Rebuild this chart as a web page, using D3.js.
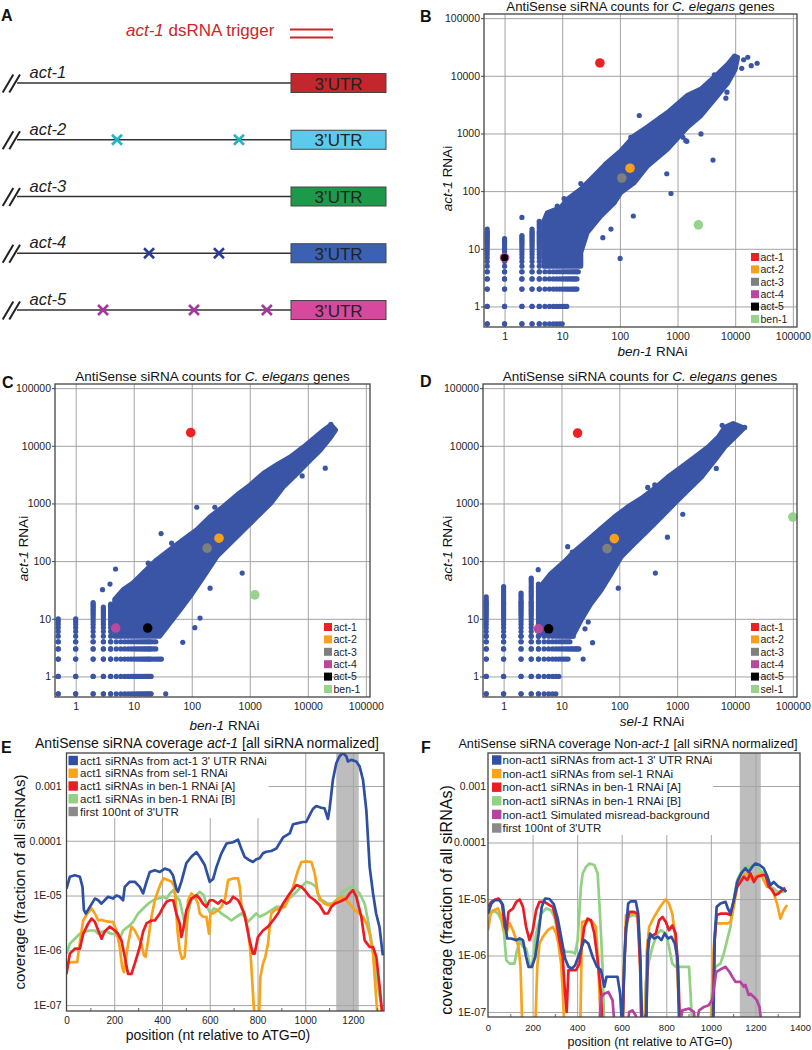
<!DOCTYPE html>
<html><head><meta charset="utf-8">
<script src="https://cdn.jsdelivr.net/npm/d3@7"></script>
<style>body{margin:0;background:#fff}</style>
</head><body>
<svg id="fig" width="812" height="1050"></svg>
<script>
// ================= DATA =================
// Panel A
const genes = ["act-1","act-2","act-3","act-4","act-5"];
const utrColors = ["#c1272d","#5ccbeb","#1c9a4a","#3b62b2","#d9489f"];
const mismatchPos = [[], [0.365, 0.81], [], [0.482, 0.737], [0.314, 0.646, 0.912]];
const mismatchColors = [null, "#1fb5c5", null, "#283c97", "#a7369f"];

// Scatter panels (B, C, D)
const decades = [1, 10, 100, 1000, 10000, 100000];
const countSteps = [0.5,1,2,3,4,5,6,7,8,9,10,11,12,13,14,15,16,17,18,19,20,22,24,26,28,30,33,36,40,44,48,51];

const cloudB = [[4.8,5],[4.8,30],[5.5,42],[9.4,52],[12.3,72],[21,108],[36,184],[61,316],[104,500],[177,910],[303,1300],[670,2300],[1500,4600],[2550,5900],[5000,10800],[7500,16000],[9700,22000],[11000,21000],
  [10000,13000],[7400,7500],[5000,4600],[2550,2050],[1500,1300],[670,535],[303,275],[177,140],[104,95],[80,63],[46.7,37],[27,19],[21,8.6],[21,5]];
const colsB = [[0.5,22],[1,15],[2,17],[3,23],[4,30]];
const rowsB = [[0.5,10],[1,12],[2,18],[3,18],[4,19]];
const outB = [[2,35],[217,2050],[155,860],[145,590],[4120,346],[2550,980],[1390,750],[770,91],[650,200],[171,37],[101,6.8],[21,135],[10.8,74],[8.2,55],[50.6,15.6],[70,22],[16500,21000],[19000,15000],[24000,16500],[14000,19000],[7200,5200],[4350,10400],[515,1900],[57,295],[6900,4100],[1450,730],[1240,860],[160,860],[13000,13500]];
const hiB = [["act-1",45,16700],["act-2",150,250],["act-3",108,169],["act-4",1,7],["act-5",1,7],["ben-1",2300,26]];

const cloudC = [[4.7,5],[4.7,21.6],[6.6,32],[9.8,42],[14.5,62],[24.8,105],[42,157],[71,234],[122,350],[207,590],[350,880],[600,1400],[1020,2100],[1740,3350],[2950,4700],[5000,6400],[8500,9600],[12700,13400],[19000,18800],[25000,23000],[30000,18800],
  [25000,14300],[16500,8500],[11000,5650],[6600,3350],[3800,1950],[2280,1000],[1330,590],[790,350],[460,205],[270,120],[160,54],[94,24.5],[63,14.4],[42,8.5],[28,5]];
const colsC = [[0.5,10],[1,10],[2,19],[3,16],[4,18]];
const rowsC = [[0.5,20],[1,20],[2,30],[3,25],[4,25]];
const outC = [[4.86,73],[3.9,40],[2.9,32],[35.6,0.5],[139,10.3],[113,7],[70,3.9],[740,62],[207,34],[122,860],[250,860],[29.6,300],[45,205],[17.8,92],[20000,4100],[8000,3000],[1900,2900],[25000,23600],[22000,20000]];
const hiC = [["act-1",96,16900],["act-2",295,250],["act-3",184,168],["act-4",4.9,6.9],["act-5",17.4,6.9],["ben-1",1220,26]];

const cloudD = [[4.5,5.5],[4.7,40],[6.5,60],[11,96],[16.4,144],[28.4,230],[48,365],[82,580],[140,870],[240,1220],[405,1810],[690,2870],[1190,4300],[2030,6400],[3470,9600],[5200,14300],[6700,21000],[9300,24300],[14300,20300],
  [10000,14300],[6700,9600],[4500,5700],[2630,2870],[1530,1690],[900,1000],[530,580],[310,340],[180,200],[107,118],[72,60],[48,31],[32,18],[21.7,9.4],[16.4,5.5]];
const colsD = [[0.5,24],[1,36],[2,28],[3,51],[4,40]];
const rowsD = [[0.5,8.5],[1,9],[2,13],[3,21],[4,14.5],[5,16]];
const outD = [[3.96,71],[23.7,2],[34.5,3.85],[25.5,6.7],[29,8.8],[420,62],[680,260],[96,34],[12.8,178],[15.4,144],[310,1900],[410,2100],[1250,650],[4750,4050],[14700,20800],[6000,22700]];
const hiD = [["act-1",19,16600],["act-2",82,246],["act-3",61.5,165],["act-4",4,6.7],["act-5",6,6.7],["sel-1",100000,580]];

const hiColors = {"act-1":"#ee2024","act-2":"#f8a01b","act-3":"#7f7f7f","act-4":"#b8499c","act-5":"#000000","ben-1":"#98d38d","sel-1":"#98d38d"};

// Coverage panels (E, F)
const covTickVals = [1e-3, 1e-4, 1e-5, 1e-6, 1e-7];
const covTickLabels = ["0.001","0.0001","1E-05","1E-06","1E-07"];
const utrBand = [1130, 1224];

const eBlue = [[0,1.34e-5],[14,2.2e-5],[35,2.35e-5],[56,2.2e-5],[67,1.44e-5],[73,5.4e-6],[81,4.7e-6],[98,6.2e-6],[119,8.8e-6],[133,8.2e-6],[146,7.1e-6],[160,8.2e-6],[174,9.5e-6],[195,8.8e-6],[209,1.0e-5],[223,9.5e-6],[237,8.2e-6],[244,1.44e-5],[265,1.78e-5],[286,1.78e-5],[307,1.44e-5],[321,1.1e-5],[335,1.78e-5],[349,2.7e-5],[370,2.9e-5],[391,2.7e-5],[412,3.1e-5],[432,2.9e-5],[446,2.35e-5],[460,1.34e-5],[467,1.17e-5],[481,1.78e-5],[502,3.9e-5],[523,5.1e-5],[544,6.2e-5],[558,5.1e-5],[579,3.6e-5],[600,1.78e-5],[614,2.0e-5],[628,3.3e-5],[649,5.9e-5],[670,8.9e-5],[698,9.4e-5],[718,1.05e-4],[732,7.2e-5],[746,5.1e-5],[767,4.4e-5],[781,4.1e-5],[795,4.6e-5],[809,4.8e-5],[823,5.9e-5],[837,6.3e-5],[858,6.5e-5],[879,7.2e-5],[907,1.15e-4],[935,1.36e-4],[949,2.0e-4],[970,2.1e-4],[990,2.2e-4],[1004,2.2e-4],[1018,2.9e-4],[1032,3.8e-4],[1046,4.3e-4],[1067,4.0e-4],[1081,3.9e-4],[1095,2.5e-4],[1102,3.8e-4],[1116,1.3e-3],[1130,2.6e-3],[1144,3.5e-3],[1158,4.0e-3],[1172,3.5e-3],[1179,2.8e-3],[1193,3.0e-3],[1214,2.8e-3],[1228,2.26e-3],[1242,1.3e-3],[1256,3.6e-4],[1270,3.3e-5],[1284,1.1e-5],[1297,4.7e-6],[1311,2.67e-6],[1325,8.1e-7]];
const eOrange = [[0,5.7e-7],[21,6.1e-7],[45,6.1e-7],[53,1.15e-6],[70,3.5e-6],[87,4.7e-6],[105,5.8e-6],[119,4.7e-6],[133,3.5e-6],[147,3.6e-6],[165,3.4e-6],[181,3.3e-6],[195,3.3e-6],[209,2.3e-6],[223,1.15e-6],[233,5.0e-7],[240,4.0e-7],[248,6.6e-7],[258,1.32e-6],[272,2.7e-6],[286,2.3e-6],[300,1.75e-6],[314,1.32e-6],[324,8.1e-7],[331,7.6e-7],[342,1.52e-6],[356,4.1e-6],[370,8.2e-6],[384,1.25e-5],[398,1.78e-5],[407,2.05e-5],[426,1.91e-5],[440,1.78e-5],[453,1.44e-5],[465,2.3e-6],[474,1.0e-6],[484,7.0e-7],[495,7.6e-7],[502,2.0e-6],[509,8.2e-6],[523,1.09e-5],[537,9.5e-6],[551,7.1e-6],[558,4.7e-6],[572,4.1e-6],[586,4.1e-6],[597,2.0e-6],[603,4.7e-6],[614,4.7e-6],[635,5.4e-6],[649,6.2e-6],[663,8.2e-6],[677,1.91e-5],[698,2.05e-5],[719,2.05e-5],[726,1.44e-5],[733,6.2e-6],[746,4.7e-6],[760,2.3e-6],[770,1.0e-6],[777,3.25e-7],[784,1e-7],[791,5e-8],[806,5e-8],[812,3.25e-7],[823,5.7e-7],[833,7.6e-7],[844,1.32e-6],[851,2.7e-6],[858,4.7e-6],[872,5.4e-6],[893,5.8e-6],[914,6.2e-6],[928,8.2e-6],[949,1.44e-5],[970,2.9e-5],[984,4.1e-5],[1005,4.2e-5],[1026,4.1e-5],[1040,2.5e-5],[1053,1.09e-5],[1067,8.2e-6],[1081,7.1e-6],[1095,6.7e-6],[1109,6.7e-6],[1130,8.2e-6],[1151,9.5e-6],[1172,8.2e-6],[1186,7.1e-6],[1207,5.4e-6],[1228,4.7e-6],[1242,4.1e-6],[1256,3.1e-6],[1270,2.0e-6],[1284,8.7e-7],[1291,3.25e-7],[1298,1.2e-7],[1305,5e-8]];
const eRed = [[0,3.7e-7],[14,8.7e-7],[35,1.07e-6],[56,1.07e-6],[70,2.0e-6],[91,3.1e-6],[105,3.8e-6],[119,3.3e-6],[133,2.3e-6],[147,1.63e-6],[160,2.2e-6],[181,2.7e-6],[202,2.3e-6],[216,2.0e-6],[230,1.52e-6],[244,7.6e-7],[258,3.7e-7],[272,3.7e-7],[286,5.7e-7],[307,1.15e-6],[321,2.2e-6],[335,3.1e-6],[356,3.5e-6],[370,3.5e-6],[391,4.7e-6],[405,6.2e-6],[419,7.7e-6],[433,8.2e-6],[447,8.2e-6],[460,4.7e-6],[474,3.1e-6],[481,1.75e-6],[488,2.3e-6],[502,5.4e-6],[523,8.8e-6],[544,1.01e-5],[558,8.8e-6],[572,7.1e-6],[586,6.2e-6],[600,8.2e-6],[614,8.2e-6],[635,7.1e-6],[649,8.2e-6],[670,7.1e-6],[684,7.7e-6],[698,9.5e-6],[719,8.2e-6],[733,6.2e-6],[746,4.4e-6],[767,1.52e-6],[781,8.7e-7],[788,8.7e-7],[802,1.75e-6],[823,2.3e-6],[844,2.7e-6],[865,3.5e-6],[886,4.7e-6],[907,7.1e-6],[935,1.09e-5],[963,1.55e-5],[984,1.44e-5],[998,1.25e-5],[1019,9.5e-6],[1040,8.2e-6],[1060,6.7e-6],[1081,4.7e-6],[1095,4.7e-6],[1109,6.2e-6],[1123,7.1e-6],[1144,7.7e-6],[1172,8.8e-6],[1186,1.09e-5],[1200,1.25e-5],[1214,9.5e-6],[1235,4.1e-6],[1249,1.52e-6],[1270,1.15e-6],[1284,1.15e-6],[1298,7.6e-7],[1312,2.1e-7],[1319,1e-7],[1326,5e-8]];
const eGreen = [[0,8.7e-7],[14,1.32e-6],[35,1.63e-6],[56,2.0e-6],[77,2.2e-6],[98,2.3e-6],[119,2.3e-6],[133,2.0e-6],[147,2.2e-6],[167,2.2e-6],[188,2.0e-6],[202,2.0e-6],[223,1.63e-6],[237,2.3e-6],[258,2.7e-6],[279,3.3e-6],[300,4.7e-6],[321,5.8e-6],[342,7.1e-6],[363,8.2e-6],[384,8.8e-6],[405,9.5e-6],[419,8.8e-6],[433,1.09e-5],[447,1.25e-5],[460,9.5e-6],[474,8.2e-6],[486,4.7e-6],[495,3.1e-6],[502,2.3e-6],[509,4.7e-6],[523,8.2e-6],[544,1.01e-5],[558,1.17e-5],[575,1.01e-5],[589,6.2e-6],[603,4.7e-6],[617,5.8e-6],[635,5.4e-6],[649,4.7e-6],[670,4.1e-6],[691,3.5e-6],[712,4.1e-6],[733,4.7e-6],[746,4.1e-6],[760,3.3e-6],[774,3.8e-6],[795,4.7e-6],[809,4.1e-6],[837,4.7e-6],[858,5.4e-6],[879,6.2e-6],[900,6.2e-6],[921,8.2e-6],[942,9.5e-6],[963,1.17e-5],[984,1.44e-5],[1005,1.78e-5],[1026,1.66e-5],[1046,1.44e-5],[1060,8.2e-6],[1074,8.2e-6],[1095,7.1e-6],[1116,7.1e-6],[1137,8.8e-6],[1158,1.17e-5],[1179,1.34e-5],[1200,1.44e-5],[1228,1.09e-5],[1249,7.1e-6],[1263,3.5e-6],[1277,1.52e-6],[1291,5.7e-7],[1305,2.1e-7],[1319,1e-7],[1326,5e-8]];

const fBlue = [[0,5.5e-6],[15,8.3e-6],[30,9.5e-6],[52,9.5e-6],[67,7.8e-6],[79,3.2e-6],[86,2.0e-6],[104,2.0e-6],[127,1.87e-6],[142,2.0e-6],[157,1.87e-6],[171,9.4e-7],[182,6.3e-7],[197,6.3e-7],[212,9.4e-7],[227,2.45e-6],[241,7.25e-6],[256,1.02e-5],[276,1.0e-5],[295,8.1e-6],[313,4.5e-6],[328,2.14e-6],[346,8.8e-7],[361,6.3e-7],[376,5.9e-7],[391,6.7e-7],[410,1.08e-6],[432,1.87e-6],[450,1.63e-6],[470,9.4e-7],[489,6.3e-7],[507,5.5e-7],[522,2.8e-7],[532,4.2e-7],[552,4.2e-7],[581,4.2e-7],[593,2.1e-7],[602,5e-8],[611,6.3e-7],[619,2.8e-6],[629,8.3e-6],[641,9.1e-6],[663,9.1e-6],[674,5.5e-6],[683,1.08e-6],[692,5e-8],[710,5e-8],[716,1.08e-6],[727,2.45e-6],[745,2.0e-6],[763,2.14e-6],[778,1.87e-6],[793,2.45e-6],[808,2.0e-6],[823,2.14e-6],[838,1.63e-6],[850,9.4e-7],[859,5e-8],[1011,5e-8],[1017,1.87e-6],[1026,7.25e-6],[1043,8.3e-6],[1066,8.9e-6],[1076,6.8e-6],[1088,5.5e-6],[1103,9.5e-6],[1118,2.0e-5],[1136,2.83e-5],[1155,3.5e-5],[1170,3.0e-5],[1185,3.7e-5],[1200,4.25e-5],[1219,4.0e-5],[1237,3.5e-5],[1252,2.6e-5],[1267,1.75e-5],[1282,2.0e-5],[1304,1.64e-5],[1319,1.55e-5],[1339,1.35e-5]];
const fOrange = [[0,2.8e-6],[12,5.5e-6],[27,6.3e-6],[45,6.8e-6],[60,4.8e-6],[72,2.8e-6],[82,2.45e-6],[97,3.7e-6],[112,2.8e-6],[127,1.87e-6],[137,1.42e-6],[146,6.3e-7],[154,5e-8],[212,5e-8],[221,6.3e-7],[231,1.63e-6],[246,2.14e-6],[268,2.8e-6],[291,3.2e-6],[306,2.45e-6],[316,1.63e-6],[328,7.2e-7],[335,2.4e-7],[343,5e-8],[414,5e-8],[422,3.9e-6],[447,4.2e-6],[470,3.9e-6],[484,3.2e-6],[495,6.3e-7],[507,5e-8],[604,5e-8],[611,6.3e-7],[619,5.2e-6],[641,5.5e-6],[663,5.5e-6],[674,4.8e-6],[683,6.3e-7],[689,5e-8],[704,5e-8],[713,1.24e-6],[723,3.2e-6],[745,4.8e-6],[768,6.8e-6],[783,8.3e-6],[798,9.9e-6],[812,8.3e-6],[827,5.5e-6],[838,2.45e-6],[847,8.2e-7],[853,2.4e-7],[859,5e-8],[1002,5e-8],[1011,1.08e-6],[1021,3.7e-6],[1043,3.7e-6],[1073,3.7e-6],[1088,3.9e-6],[1103,7.25e-6],[1118,1.64e-5],[1140,2.47e-5],[1163,2.83e-5],[1185,2.16e-5],[1200,2.47e-5],[1222,2.83e-5],[1237,2.16e-5],[1252,1.64e-5],[1267,1.64e-5],[1282,1.25e-5],[1297,8.3e-6],[1312,4.5e-6],[1327,6.3e-6],[1342,7.8e-6]];
const fRed = [[0,7.25e-6],[15,8.9e-6],[33,9.8e-6],[48,1.02e-5],[63,8.3e-6],[75,3.2e-6],[83,2.8e-6],[92,5.9e-6],[112,6.8e-6],[127,8.9e-6],[142,9.8e-6],[157,7.25e-6],[171,3.2e-6],[186,1.87e-6],[201,2.8e-6],[216,6.3e-6],[231,8.9e-6],[253,8.9e-6],[276,7.8e-6],[291,7.25e-6],[306,4.2e-6],[320,1.87e-6],[335,9.4e-7],[346,2.1e-7],[353,1e-7],[361,5.5e-7],[373,5.5e-7],[395,5.5e-7],[410,7.2e-7],[420,1.42e-6],[432,3.2e-6],[447,4.5e-6],[462,4.2e-6],[477,2.45e-6],[492,8.2e-7],[507,2.1e-7],[514,5e-8],[604,5e-8],[611,6.3e-7],[619,3.2e-6],[634,5.9e-6],[656,5.9e-6],[671,5.5e-6],[683,6.3e-7],[689,5e-8],[708,5e-8],[719,1.87e-6],[730,2.14e-6],[753,2.45e-6],[768,4.2e-6],[783,4.8e-6],[798,3.9e-6],[812,2.8e-6],[827,3.4e-6],[842,2.45e-6],[853,6.3e-7],[862,5e-8],[1008,5e-8],[1017,1.87e-6],[1026,5.2e-6],[1043,5.5e-6],[1073,5.5e-6],[1088,5.2e-6],[1103,9.5e-6],[1118,1.64e-5],[1133,2.0e-5],[1148,2.47e-5],[1163,2.16e-5],[1178,2.83e-5],[1193,2.0e-5],[1207,2.47e-5],[1230,2.64e-5],[1245,2.64e-5],[1260,1.64e-5],[1275,1.44e-5],[1289,1.17e-5],[1304,1.25e-5],[1319,1.44e-5],[1334,1.58e-5]];
const fGreen = [[0,5.5e-6],[22,6.3e-6],[45,5.5e-6],[60,4.2e-6],[72,2.45e-6],[82,8.2e-7],[97,7.2e-7],[119,7.2e-7],[127,1.08e-6],[142,1.87e-6],[157,1.42e-6],[171,1.33e-6],[186,7.2e-7],[197,6.3e-7],[216,2.45e-6],[239,5.5e-6],[261,6.8e-6],[283,6.3e-6],[298,4.8e-6],[313,2.45e-6],[328,1.42e-6],[350,1.16e-6],[373,1.16e-6],[391,1.08e-6],[402,1.87e-6],[417,1.64e-5],[425,2.83e-5],[440,3.7e-5],[455,4.25e-5],[477,4.0e-5],[492,2.83e-5],[499,9.5e-6],[507,2.45e-6],[514,6.3e-7],[522,5e-8],[604,5e-8],[611,6.3e-7],[619,2.45e-6],[629,4.8e-6],[656,5.2e-6],[671,4.8e-6],[680,1.87e-6],[689,5e-8],[701,5e-8],[708,3.2e-7],[723,8.2e-7],[738,1.42e-6],[760,2.45e-6],[775,2.8e-6],[798,2.45e-6],[812,1.42e-6],[827,7.2e-7],[842,6.3e-7],[902,6.3e-7],[909,2.1e-7],[917,5e-8],[999,5e-8],[1006,3.2e-7],[1021,6.3e-7],[1043,7.2e-7],[1058,1.08e-6],[1073,1.87e-6],[1088,3.2e-6],[1103,9.5e-6],[1118,2.16e-5],[1133,2.83e-5],[1148,3.5e-5],[1163,3.7e-5],[1178,3.7e-5],[1193,4.0e-5],[1207,3.7e-5],[1222,3.24e-5],[1237,2.83e-5],[1252,2.16e-5],[1267,1.64e-5],[1282,1.54e-5],[1297,1.34e-5],[1312,1.34e-5],[1327,1.34e-5],[1339,1.44e-5]];
const fMagenta = [[499,5e-8],[507,1.85e-7],[522,2.1e-7],[540,2.26e-7],[559,1.6e-7],[569,5e-8],[623,5e-8],[634,1.0e-7],[648,1.07e-7],[663,8.7e-8],[671,5e-8],[857,5e-8],[872,1.07e-7],[902,1.15e-7],[924,1.0e-7],[932,5e-8],[947,1.07e-7],[969,1.23e-7],[991,1.32e-7],[1006,1.66e-7],[1024,5.1e-7],[1051,5.9e-7],[1066,6.3e-7],[1084,5.1e-7],[1096,4.2e-7],[1111,3.4e-7],[1133,3.4e-7],[1148,2.8e-7],[1155,3.0e-7],[1170,2.0e-7],[1178,2.1e-7],[1193,1.85e-7],[1207,1.6e-7],[1218,1.23e-7],[1230,5e-8]];

const legendE = ["act1 siRNAs from act-1 3' UTR RNAi","act1 siRNAs from sel-1 RNAi","act1 siRNAs in ben-1 RNAi [A]","act1 siRNAs in ben-1 RNAi [B]","first 100nt of 3'UTR"];
const legendF = ["non-act1 siRNAs from act-1 3' UTR RNAi","non-act1 siRNAs from sel-1 RNAi","non-act1 siRNAs in ben-1 RNAi [A]","non-act1 siRNAs in ben-1 RNAi [B]","non-act1 Simulated misread-background","first 100nt of 3'UTR"];
const lineColors = {blue:"#2f4fa3", orange:"#f9a31b", red:"#ed1c24", green:"#92d183", magenta:"#b4449e", band:"#bdbdbd", bandKey:"#8a8a8a"};

// ================= DRAW =================
const FONT = "'Liberation Sans', Arial, Helvetica, sans-serif";
const svg = d3.select("#fig").attr("font-family", FONT);
const defs = svg.append("defs");

function rich(sel, parts) {
  parts.forEach(([t, it]) => sel.append("tspan").attr("font-style", it ? "italic" : "normal").text(t));
  return sel;
}
function panelLabel(t, x, y) {
  svg.append("text").attr("x", x).attr("y", y).attr("font-size", 16).attr("font-weight", "bold").attr("fill", "#111").text(t);
}

// ---------- Panel A ----------
panelLabel("A", 1, 21);
rich(svg.append("text").attr("x", 126).attr("y", 36).attr("font-size", 17).attr("fill", "#d2232a"),
  [["act-1", true], [" dsRNA trigger", false]]);
[29.5, 37.5].forEach(yy => svg.append("line").attr("x1", 290).attr("x2", 333).attr("y1", yy).attr("y2", yy)
  .attr("stroke", "#d2232a").attr("stroke-width", 2));

const rowY = d3.scalePoint().domain(genes).range([83, 310]);
const lineX = d3.scaleLinear().domain([0, 1]).range([17, 291]);
genes.forEach((gname, i) => {
  const y = rowY(gname);
  svg.append("line").attr("x1", lineX(0)).attr("x2", lineX(1)).attr("y1", y).attr("y2", y).attr("stroke", "#333").attr("stroke-width", 1.3);
  [[2.7, 13.3], [9.3, 20]].forEach(([a, b]) => svg.append("line").attr("x1", a).attr("y1", y + 9.5).attr("x2", b).attr("y2", y - 8.5)
    .attr("stroke", "#222").attr("stroke-width", 2));
  svg.append("text").attr("x", 29.5).attr("y", y - 5).attr("font-size", 16.5).attr("font-style", "italic").attr("fill", "#222").text(gname);
  svg.append("rect").attr("x", 291).attr("y", y - 9.5).attr("width", 95).attr("height", 19)
    .attr("fill", utrColors[i]).attr("stroke", "#444").attr("stroke-width", 1);
  svg.append("text").attr("x", 338.5).attr("y", y + 6.5).attr("text-anchor", "middle").attr("font-size", 17).attr("fill", "#222").text("3\u2019UTR");
  mismatchPos[i].forEach(p => {
    const cx = lineX(p), s = 5;
    svg.append("path").attr("d", `M${cx - s},${y - s}L${cx + s},${y + s}M${cx - s},${y + s}L${cx + s},${y - s}`)
      .attr("stroke", mismatchColors[i]).attr("stroke-width", 2.6).attr("fill", "none");
  });
});

// ---------- Scatter panels ----------
function scatter(p) {
  const g = svg.append("g");
  const x = d3.scaleLog().domain([0.44, 118000]).range([p.left, p.left + p.w]);
  const y = d3.scaleLog().domain([0.44, 118000]).range([p.top + p.h, p.top]);
  const blue = "#3a55a5";
  g.append("g").attr("transform", `translate(0,${p.top + p.h})`)
    .call(d3.axisBottom(x).tickValues(decades).tickSize(-p.h).tickFormat(""))
    .call(s => { s.select(".domain").remove(); s.selectAll("line").attr("stroke", "#a3a3a3").attr("stroke-width", 1); });
  g.append("g").attr("transform", `translate(${p.left},0)`)
    .call(d3.axisLeft(y).tickValues(decades).tickSize(-p.w).tickFormat(""))
    .call(s => { s.select(".domain").remove(); s.selectAll("line").attr("stroke", "#a3a3a3").attr("stroke-width", 1); });
  const area = d3.line().x(d => x(d[0])).y(d => y(d[1])).curve(d3.curveLinearClosed);
  g.append("path").attr("d", area(p.cloud)).attr("fill", blue).attr("stroke", blue).attr("stroke-width", 5).attr("stroke-linejoin", "round");
  const pts = [];
  p.cols.forEach(([cx, top]) => countSteps.filter(v => v <= top).forEach(v => pts.push([cx, v])));
  p.rows.forEach(([ry, maxX]) => countSteps.filter(v => v <= maxX).forEach(v => pts.push([v, ry])));
  p.out.forEach(d => pts.push(d));
  g.selectAll(null).data(pts).enter().append("circle")
    .attr("cx", d => x(d[0])).attr("cy", d => y(d[1])).attr("r", 2.6).attr("fill", blue);
  p.hi.forEach(([name, hx, hy]) => {
    let r = 4.8;
    if (name === "act-5") {
      const a4 = p.hi.find(h => h[0] === "act-4");
      if (a4 && a4[1] === hx && a4[2] === hy) r = 3.6;
    }
    g.append("circle").attr("cx", x(hx)).attr("cy", y(hy)).attr("r", r).attr("fill", hiColors[name]);
  });
  g.append("rect").attr("x", p.left).attr("y", p.top).attr("width", p.w).attr("height", p.h)
    .attr("fill", "none").attr("stroke", "#444").attr("stroke-width", 1.3);
  g.append("g").attr("transform", `translate(0,${p.top + p.h})`)
    .call(d3.axisBottom(x).tickValues(decades).tickFormat(d3.format("d")).tickSize(0).tickPadding(6))
    .call(s => { s.select(".domain").remove(); s.selectAll("text").attr("font-size", 10.5).attr("font-family", FONT).attr("fill", "#222"); });
  g.append("g").attr("transform", `translate(${p.left},0)`)
    .call(d3.axisLeft(y).tickValues(decades).tickFormat(d3.format("d")).tickSize(3).tickPadding(1))
    .call(s => { s.select(".domain").remove(); s.selectAll("line").attr("stroke", "#444");
      s.selectAll("text").attr("font-size", 10.5).attr("font-family", FONT).attr("fill", "#222"); });
  const lx = p.left + p.w - 46, ly0 = p.top + p.h - 70;
  p.hi.forEach(([name], i) => {
    const cy = ly0 + i * 12.4;
    g.append("rect").attr("x", lx).attr("y", cy - 4).attr("width", 8).attr("height", 8).attr("fill", hiColors[name]);
    g.append("text").attr("x", lx + 9.5).attr("y", cy + 3.8).attr("font-size", 10.5).attr("fill", "#222").text(name);
  });
  rich(g.append("text").attr("x", p.left + p.w / 2).attr("y", p.top - p.titleDy).attr("text-anchor", "middle").attr("font-size", p.titleFs).attr("fill", "#111"),
    [["AntiSense siRNA counts for ", false], ["C. elegans", true], [" genes", false]]);
  rich(g.append("text").attr("transform", `translate(${p.yLabX},${p.top + p.h / 2 + 8}) rotate(-90)`).attr("text-anchor", "middle").attr("font-size", 13.5).attr("fill", "#111"),
    [["act-1", true], [" RNAi", false]]);
  rich(g.append("text").attr("x", p.left + p.w / 2 + 12).attr("y", p.top + p.h + p.xLabDy).attr("text-anchor", "middle").attr("font-size", 13.5).attr("fill", "#111"),
    [[p.xGene, true], [" RNAi", false]]);
}

panelLabel("B", 420, 22);
scatter({left: 484, top: 14, w: 313, h: 313, cloud: cloudB, cols: colsB, rows: rowsB, out: outB, hi: hiB, yLabX: 452, xGene: "ben-1", xLabDy: 29, titleFs: 13.2, titleDy: 2.8});
panelLabel("C", 2, 388);
scatter({left: 55, top: 384, w: 315, h: 313, cloud: cloudC, cols: colsC, rows: rowsC, out: outC, hi: hiC, yLabX: 28, xGene: "ben-1", xLabDy: 33, titleFs: 13.5, titleDy: 3.5});
panelLabel("D", 420, 387);
scatter({left: 483, top: 384, w: 314, h: 313, cloud: cloudD, cols: colsD, rows: rowsD, out: outD, hi: hiD, yLabX: 452, xGene: "sel-1", xLabDy: 29, titleFs: 13.5, titleDy: 3.5});

// ---------- Coverage panels ----------
function coverage(p) {
  const g = svg.append("g");
  const x = d3.scaleLinear().domain([0, p.xMax]).range([p.left, p.right]);
  const y = d3.scaleLog().domain([p.yMin, p.yMax]).range([p.bottom, p.top]);
  const W = p.right - p.left, H = p.bottom - p.top;
  defs.append("clipPath").attr("id", "clip" + p.name).append("rect").attr("x", p.left).attr("y", p.top).attr("width", W).attr("height", H);
  g.append("rect").attr("x", x(utrBand[0])).attr("y", p.top).attr("width", x(utrBand[1]) - x(utrBand[0])).attr("height", H).attr("fill", lineColors.band);
  g.append("g").attr("transform", `translate(0,${p.bottom})`)
    .call(d3.axisBottom(x).tickValues(p.grid).tickSize(-H).tickFormat(""))
    .call(s => { s.select(".domain").remove(); s.selectAll("line").attr("stroke", "#a6a6a6"); });
  g.append("g").attr("transform", `translate(${p.left},0)`)
    .call(d3.axisLeft(y).tickValues(covTickVals).tickSize(-W).tickFormat(""))
    .call(s => { s.select(".domain").remove(); s.selectAll("line").attr("stroke", "#a6a6a6"); });
  const line = d3.line().x(d => x(d[0])).y(d => y(d[1]));
  const lg = g.append("g").attr("clip-path", `url(#clip${p.name})`);
  p.series.forEach(s => lg.append("path").attr("d", line(s.data)).attr("fill", "none")
    .attr("stroke", s.color).attr("stroke-width", 2.7).attr("stroke-linejoin", "round"));
  g.append("rect").attr("x", p.left + 1).attr("y", p.top + 1).attr("width", p.legW).attr("height", p.legH).attr("fill", "#fff");
  p.legend.forEach((t, i) => {
    const cy = p.legY0 + i * p.legStep;
    g.append("rect").attr("x", p.legX).attr("y", cy - 4.7).attr("width", 9.4).attr("height", 9.4).attr("fill", p.legColors[i]);
    g.append("text").attr("x", p.legX + p.legTextDx).attr("y", cy + 4.1).attr("font-size", 11.5).attr("fill", "#222").text(t);
  });
  g.append("g").attr("transform", `translate(0,${p.bottom})`)
    .call(d3.axisBottom(x).tickValues(p.minor).tickSize(-3).tickFormat(""))
    .call(s => { s.select(".domain").remove(); s.selectAll("line").attr("stroke", "#666"); });
  g.append("rect").attr("x", p.left).attr("y", p.top).attr("width", W).attr("height", H)
    .attr("fill", "none").attr("stroke", "#444").attr("stroke-width", 1.3);
  g.append("g").attr("transform", `translate(0,${p.bottom})`)
    .call(d3.axisBottom(x).tickValues(p.ticks).tickFormat(d3.format("d")).tickSize(0).tickPadding(p.xPad))
    .call(s => { s.select(".domain").remove(); s.selectAll("text").attr("font-size", p.xTickFs).attr("font-family", FONT).attr("fill", "#222"); });
  g.append("g").attr("transform", `translate(${p.left},0)`)
    .call(d3.axisLeft(y).tickValues(covTickVals).tickFormat((d, i) => covTickLabels[i]).tickSize(0).tickPadding(p.yPad))
    .call(s => { s.select(".domain").remove(); s.selectAll("text").attr("font-size", 10.5).attr("font-family", FONT).attr("fill", "#222"); });
  rich(g.append("text").attr("x", p.titleX).attr("y", 748).attr("text-anchor", "middle").attr("font-size", p.titleFs).attr("fill", "#111"), p.title);
  g.append("text").attr("transform", `translate(${p.yLabX},${p.yLabY}) rotate(-90)`).attr("text-anchor", "middle")
    .attr("font-size", p.yLabFs).attr("fill", "#111").text("coverage (fraction of all siRNAs)");
  g.append("text").attr("x", p.xLabX).attr("y", p.xLabY).attr("text-anchor", "middle").attr("font-size", p.xLabFs).attr("fill", "#111")
    .text("position (nt relative to ATG=0)");
}

panelLabel("E", 1, 753);
coverage({name: "E", left: 66.5, right: 384, top: 753, bottom: 1011, xMax: 1330, yMin: 7.8e-8, yMax: 4.0e-3,
  grid: [200, 400, 600, 800, 1000, 1200], minor: [100, 300, 500, 700, 900, 1100, 1300], ticks: [0, 200, 400, 600, 800, 1000, 1200],
  series: [{data: eGreen, color: lineColors.green}, {data: eOrange, color: lineColors.orange}, {data: eRed, color: lineColors.red}, {data: eBlue, color: lineColors.blue}],
  legend: legendE, legColors: [lineColors.blue, lineColors.orange, lineColors.red, lineColors.green, lineColors.bandKey],
  legW: 201, legH: 64, legX: 68.5, legY0: 760.5, legStep: 12.75, legTextDx: 11.5,
  xPad: 6, xTickFs: 10, yPad: 5, titleX: 207, titleFs: 14, title: [["AntiSense siRNA coverage ", false], ["act-1", true], [" [all siRNA normalized]", false]],
  yLabX: 25, yLabY: 882, yLabFs: 15, xLabX: 218, xLabY: 1040, xLabFs: 14});
panelLabel("F", 421, 753);
coverage({name: "F", left: 488, right: 800, top: 753, bottom: 1017, xMax: 1400, yMin: 8.15e-8, yMax: 3.84e-3,
  grid: [200, 400, 600, 800, 1000, 1200], minor: [100, 300, 500, 700, 900, 1100, 1300], ticks: [0, 200, 400, 600, 800, 1000, 1200, 1400],
  series: [{data: fGreen, color: lineColors.green}, {data: fOrange, color: lineColors.orange}, {data: fRed, color: lineColors.red}, {data: fBlue, color: lineColors.blue}, {data: fMagenta, color: lineColors.magenta}],
  legend: legendF, legColors: [lineColors.blue, lineColors.orange, lineColors.red, lineColors.green, lineColors.magenta, lineColors.bandKey],
  legW: 224, legH: 81, legX: 492, legY0: 760, legStep: 13.6, legTextDx: 10.5,
  xPad: 7, xTickFs: 9.5, yPad: 2, titleX: 628, titleFs: 12.7, title: [["AntiSense siRNA coverage Non-", false], ["act-1", true], [" [all siRNA normalized]", false]],
  yLabX: 452, yLabY: 900, yLabFs: 16, xLabX: 650, xLabY: 1046, xLabFs: 12.5});
</script>
</body></html>
